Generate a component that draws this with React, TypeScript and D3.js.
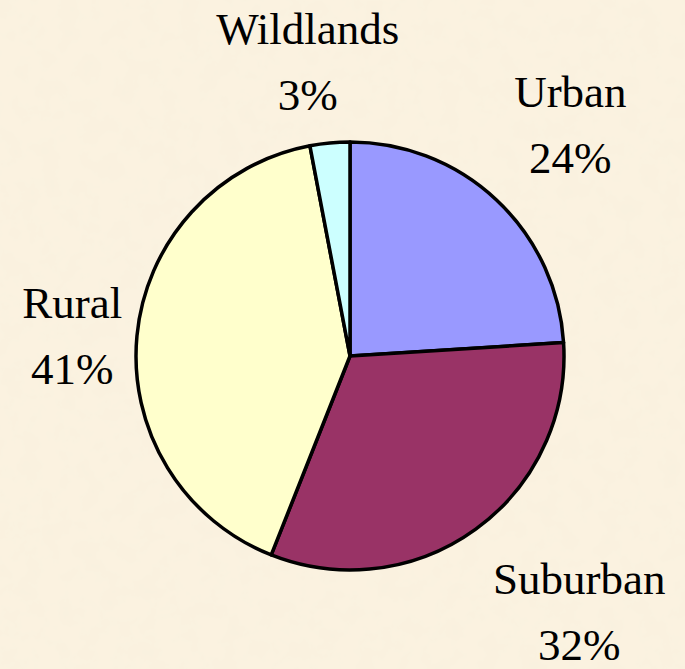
import React, { useEffect, useRef } from "react";
import * as d3 from "d3";

// slice data, clockwise from 12 o'clock
const categories = ["Urban", "Suburban", "Rural", "Wildlands"];
const shares = [24, 32, 41, 3];
const sliceColors = ["#9999FF", "#993366", "#FFFFCC", "#CCFFFF"];

// hand nudges for the label boxes (px), like the manually placed labels
const labelNudge: Record<string, [number, number]> = {
  Urban: [15, -12],
  Suburban: [53, 13],
  Rural: [21, 8],
  Wildlands: [-14, 5],
};

const W = 685;
const H = 669;

const App = () => {
  const ref = useRef<SVGSVGElement | null>(null);

  useEffect(() => {
    document.body.style.margin = "0";
    drawChart();
  }, []);

  const drawChart = () => {
    const svg = d3.select(ref.current);
    svg.selectAll("*").remove();

    const data = categories.map((name, i) => ({ name, value: shares[i] }));
    const color = d3.scaleOrdinal<string, string>().domain(categories).range(sliceColors);

    // parchment background
    const defs = svg.append("defs");
    const f = defs.append("filter").attr("id", "paper").attr("x", 0).attr("y", 0).attr("width", "100%").attr("height", "100%");
    f.append("feTurbulence")
      .attr("type", "fractalNoise")
      .attr("baseFrequency", "0.05")
      .attr("numOctaves", 4)
      .attr("seed", 4);
    f.append("feColorMatrix")
      .attr("type", "matrix")
      .attr("values", "0 0 0 0 0.92  0 0 0 0 0.86  0 0 0 0 0.72  0.7 0 0 0 -0.25");

    svg.append("rect").attr("width", W).attr("height", H).attr("fill", "#FBF2E0");
    svg.append("rect").attr("width", W).attr("height", H).attr("filter", "url(#paper)");

    const cx = 350;
    const cy = 356;
    const radius = 214;

    const pie = d3.pie<{ name: string; value: number }>().value((d) => d.value).sort(null);
    const arc = d3.arc<d3.PieArcDatum<{ name: string; value: number }>>().innerRadius(0).outerRadius(radius);
    const labelArc = d3.arc<d3.PieArcDatum<{ name: string; value: number }>>().innerRadius(300).outerRadius(300);

    const g = svg.append("g").attr("transform", `translate(${cx},${cy})`);

    g.selectAll("path")
      .data(pie(data))
      .enter()
      .append("path")
      .attr("d", arc)
      .attr("fill", (d) => color(d.data.name))
      .attr("stroke", "#000")
      .attr("stroke-width", 3.5)
      .attr("stroke-linejoin", "round");

    const labels = g
      .selectAll("g.lbl")
      .data(pie(data))
      .enter()
      .append("g")
      .attr("class", "lbl")
      .attr("transform", (d) => {
        const [x, y] = labelArc.centroid(d);
        const [nx, ny] = labelNudge[d.data.name];
        return `translate(${x + nx},${y + ny})`;
      })
      .attr("text-anchor", "middle")
      .attr("fill", "#000");

    const font = "font-family: 'Times New Roman', 'Liberation Serif', serif; font-size: 45px";
    labels.append("text").attr("y", -18).attr("style", font).text((d) => d.data.name);
    labels.append("text").attr("y", 48).attr("style", font).text((d) => `${d.data.value}%`);
  };

  return (
    <div>
      <svg ref={ref} width={W} height={H} style={{ display: "block" }}></svg>
    </div>
  );
};

export default App;
